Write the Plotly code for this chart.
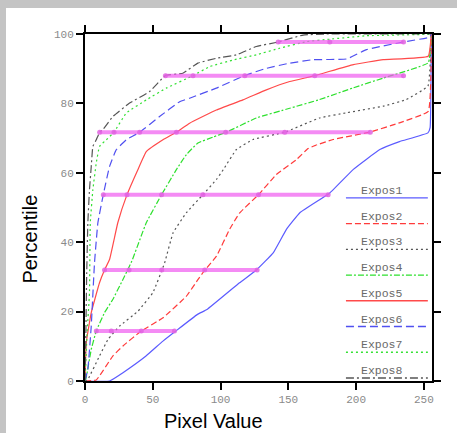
import plotly.graph_objects as go

# ---- data ----
names = ["Expos1", "Expos2", "Expos3", "Expos4", "Expos5", "Expos6", "Expos7", "Expos8"]

expos1_x = [0, 18, 28, 45, 57.5, 67, 83, 90, 114, 126.5, 139, 148.6, 158.5, 180.6, 198, 217.5, 232, 253, 254.6, 255.5]
expos1_y = [0, 0, 2.4, 7.2, 11.5, 14.4, 19.2, 20.6, 28.3, 32, 37, 43.7, 48.5, 54.2, 61, 66.7, 69, 71.5, 73, 100]

expos2_x = [0, 8.3, 20.5, 28, 41.5, 57.5, 74.7, 83.3, 88.5, 97, 106.8, 114, 128, 141.2, 156, 164.6, 170, 183, 210, 232, 253.2, 255.5]
expos2_y = [0, 0.3, 7.2, 10.1, 14.4, 18.2, 24.4, 29.2, 32, 36, 43.8, 48.4, 53.7, 59.5, 63.8, 67, 67.9, 69.6, 71.7, 74.4, 77.7, 100]

expos3_x = [0, 2.1, 10.7, 17, 25.5, 39, 50, 58.7, 65, 74.8, 87, 97, 102, 111.7, 124, 147.4, 173, 193, 220, 237, 253, 255.5]
expos3_y = [0, 0.5, 7.2, 12, 15.8, 20.1, 25.4, 34, 42.7, 48.5, 53.7, 58.1, 60.9, 66.7, 69.6, 71.7, 75.8, 77.3, 79.2, 81.1, 85, 100]

expos4_x = [0, 0.9, 4.6, 8.3, 14.4, 20.5, 27.9, 34.5, 45.2, 56.5, 67.4, 74.7, 83.3, 94.5, 104.3, 126.4, 151, 173, 198, 220, 253.2, 255.5]
expos4_y = [0, 1, 9.1, 14.4, 19.7, 23.5, 29.2, 34.5, 45.6, 53.7, 60.9, 65.2, 68.6, 70.3, 71.7, 75.8, 78.6, 81.1, 84.5, 87.3, 91.7, 100]

expos5_x = [0, 0.9, 4.6, 10.7, 14.4, 18.1, 24.2, 31, 39, 45.2, 57.5, 67.4, 77.2, 96.9, 116.5, 133.8, 151, 169.5, 198, 220, 253.2, 255.5]
expos5_y = [0, 11, 19.7, 28.3, 32, 35, 45.6, 53.7, 60.9, 66.1, 69.5, 71.7, 74.3, 78.1, 81, 83.9, 86.3, 88, 91.2, 92.6, 93.6, 100]

expos6_x = [0, 2.1, 4.6, 7, 9.5, 13.5, 18.1, 23, 30.4, 40.3, 55, 69.8, 77.2, 96.9, 117.5, 133.8, 151, 168.3, 193, 207.7, 234.7, 254.4, 255.5]
expos6_y = [0, 3.4, 15.8, 34, 45.6, 53.7, 61.8, 66.6, 69.5, 71.7, 76.2, 80.5, 81.5, 84.4, 88, 90.1, 91.6, 92.6, 92.8, 95.5, 97.7, 99.1, 100]

expos7_x = [0, 0.4, 1.4, 3.3, 3.9, 5.8, 8.3, 10.7, 15.7, 21.4, 30.4, 45.2, 60, 79.7, 92, 109.2, 126.4, 143.6, 163.4, 180.6, 207.7, 253, 255.5]
expos7_y = [0, 3, 12.9, 25.4, 45.6, 55.1, 62.8, 67.6, 69.5, 71.7, 77.2, 81, 84.4, 88, 90.6, 92.5, 94, 95.9, 97.8, 98.5, 99.5, 99.9, 100]

expos8_x = [0, 0.5, 1.2, 2.1, 3.3, 4.6, 5.8, 8.3, 10.8, 13.1, 20.5, 32.9, 47.6, 59.3, 72.2, 83.3, 96.9, 111.7, 126.4, 142.5, 160.9, 178, 255.5]
expos8_y = [0, 10, 30, 45.6, 55.1, 61.8, 67.6, 69.5, 71.7, 72.4, 76.2, 80.1, 83.4, 88, 88.7, 91.6, 93, 94, 96.4, 97.7, 99.7, 100, 100]

series_x = [expos1_x, expos2_x, expos3_x, expos4_x, expos5_x, expos6_x, expos7_x, expos8_x]
series_y = [expos1_y, expos2_y, expos3_y, expos4_y, expos5_y, expos6_y, expos7_y, expos8_y]

# magenta percentile crossing lines: level and x of crossing markers
cross_levels = [14.4, 32, 53.7, 71.7, 88, 97.7]
cross_x = [
    [8.3, 19.4, 41.5, 66],
    [14.4, 32.5, 56.6, 88.3, 127],
    [13.5, 31, 56.5, 87, 128, 179.4],
    [10.8, 21.4, 40.3, 67.4, 103.8, 147.4, 210.5],
    [59.3, 79.7, 117.9, 169.5, 235],
    [142.5, 180.6, 235],
]

x_ticks = [0, 50, 100, 150, 200, 250]
y_ticks = [0, 20, 40, 60, 80, 100]
x_title = "Pixel Value"
y_title = "Percentile"

# ---- styles ----
colors = ["#5b5bff", "#ff3b3b", "#555555", "#2ee02e", "#ff4a4a", "#5050f0", "#33e033", "#555555"]
dashes = ["solid", "6px,3px", "2px,3px", "6px,2px,2px,2px", "solid", "8px,4px", "2px,3px", "8px,3px,2px,3px"]

fig = go.Figure()

for nm, xs, ys, c, d in zip(names, series_x, series_y, colors, dashes):
    fig.add_trace(go.Scatter(x=xs, y=ys, mode="lines", name=nm,
                             line=dict(color=c, width=1.2, dash=d, shape="spline", smoothing=0.3),
                             showlegend=False))

for lvl, xs in zip(cross_levels, cross_x):
    fig.add_trace(go.Scatter(x=xs, y=[lvl] * len(xs), mode="lines+markers",
                             line=dict(color="rgba(240,90,240,0.7)", width=4),
                             marker=dict(color="rgba(225,100,225,0.85)", size=5),
                             showlegend=False, hoverinfo="skip"))

shapes = []
annotations = []
leg_y0 = 0.528
leg_step = 0.0742
for i, (nm, c, d) in enumerate(zip(names, colors, dashes)):
    yy = leg_y0 - i * leg_step
    shapes.append(dict(type="line", xref="paper", yref="paper", x0=0.752, x1=0.988, y0=yy, y1=yy,
                       line=dict(color=c, width=1.3, dash=d)))
    annotations.append(dict(xref="paper", yref="paper", x=0.855, y=yy, text=nm, showarrow=False,
                            xanchor="center", yanchor="bottom", yshift=-1,
                            font=dict(family="Liberation Mono, monospace", size=11.5, color="#6a6a6a")))

title_font = dict(family="Liberation Sans, Arial", size=20, color="black")
annotations.append(dict(xref="paper", yref="paper", x=0.37, y=-0.115, text=x_title, showarrow=False,
                        xanchor="center", yanchor="middle", font=title_font))
annotations.append(dict(xref="paper", yref="paper", x=-0.158, y=0.408, text=y_title, showarrow=False,
                        xanchor="center", yanchor="middle", textangle=-90, font=title_font))

axis_common = dict(showline=True, linecolor="black", linewidth=2, mirror="ticks", ticks="outside",
                   ticklen=7, tickwidth=2, tickcolor="black", showgrid=False, zeroline=False,
                   automargin=False,
                   tickfont=dict(family="Liberation Mono, monospace", size=11, color="#8a8a8a"))

fig.update_layout(
    width=451, height=425,
    margin=dict(l=79, r=25, t=26, b=52),
    paper_bgcolor="white", plot_bgcolor="white",
    shapes=shapes, annotations=annotations,
    xaxis=dict(range=[0, 256], tickvals=x_ticks, **axis_common),
    yaxis=dict(range=[0, 100], tickvals=y_ticks, **axis_common),
)

fig.write_html("out.html",
               post_script="document.body.style.margin='8px 0 0 6px';document.body.style.background='#c4c4c4';document.body.style.overflow='hidden';")
